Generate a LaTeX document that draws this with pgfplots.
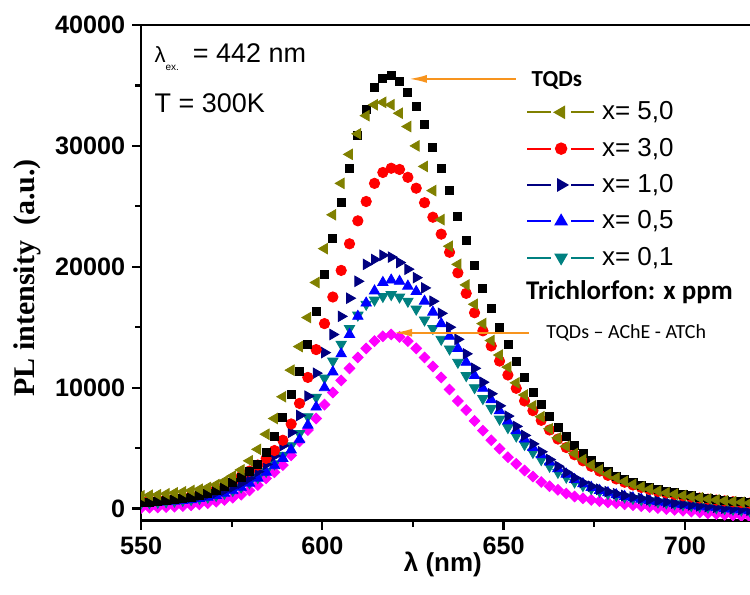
\documentclass[border=0pt]{standalone}
\usepackage{fontspec}
\setmainfont{Liberation Sans}
\newfontfamily\serifbold{Liberation Serif}
\newfontfamily\calibri{Carlito}
\usepackage{pgfplots}
\usepackage{pgfplotstable}
\pgfplotsset{compat=1.18}
\usetikzlibrary{arrows.meta}
\definecolor{olivec}{RGB}{128,128,0}
\definecolor{redc}{RGB}{255,0,0}
\definecolor{navyc}{RGB}{0,0,128}
\definecolor{bluec}{RGB}{0,0,255}
\definecolor{tealc}{RGB}{0,128,128}
\definecolor{magc}{RGB}{255,0,255}
\definecolor{orangec}{RGB}{247,148,30}

\pgfplotstableread{
lam tqd x50 x30 x10 x05 x01 ache
550.0 500 1050 600 600 450 450 50
552.3 540 1100 640 640 480 480 70
554.6 590 1150 690 680 520 520 90
556.9 650 1220 750 730 560 560 120
559.2 720 1300 820 790 610 610 160
561.5 810 1390 910 860 670 670 210
563.8 920 1490 1020 940 740 740 270
566.1 1060 1600 1170 1040 830 830 350
568.4 1250 1750 1370 1160 940 940 450
570.7 1500 1980 1620 1320 1080 1080 570
573.0 1800 2280 1900 1520 1260 1260 720
575.3 2180 2700 2250 1780 1480 1490 900
577.6 2620 3200 2650 2100 1760 1780 1150
579.9 3080 3950 3100 2520 2100 2130 1500
582.2 3620 4900 3600 3050 2520 2560 1950
584.5 4650 6150 4150 3650 3000 3080 2500
586.8 5950 7450 4800 4350 3550 3700 3000
589.1 7550 9250 5650 5200 4150 4400 3600
591.4 9450 11450 7000 6300 4850 5200 4400
593.7 11350 13400 8700 7700 5700 6200 5550
596.0 13600 15800 10850 9300 6900 7600 6500
598.3 16300 18700 13150 11200 8400 9200 7450
600.6 19350 21500 15300 12900 10000 10800 8600
602.9 22350 24300 17500 14400 11300 12200 9600
605.2 25300 26900 19700 15900 12800 13600 10600
607.5 28150 29300 21900 17400 14400 14900 11600
609.8 30850 31000 23800 18800 15900 16000 12500
612.1 33000 32500 25400 20200 17000 16900 13250
614.4 34800 33400 26900 20600 18000 17250 13850
616.7 35600 33600 27800 20950 18700 17550 14250
619.0 35800 33400 28150 20800 18900 17700 14400
621.3 35300 32700 28050 20350 18800 17500 14200
623.6 34400 31600 27400 19800 18400 17150 13850
625.9 33300 30000 26500 19100 17950 16500 13250
628.2 31800 28300 25300 18250 17150 15600 12500
630.5 29900 26300 24100 17150 16250 14900 11750
632.8 28100 23900 22700 16150 15300 14000 10850
635.1 26300 21700 21200 15000 14250 13200 9850
637.4 24200 20200 19500 14000 13250 12100 8900
639.7 22200 18500 17800 12800 12100 11000 8150
642.0 20150 16900 16200 11600 11000 10000 7250
644.3 18250 15300 14700 10450 9950 9100 6450
646.6 16550 13900 13450 9500 9000 8300 5650
648.9 15000 12700 12200 8500 8100 7400 4950
651.2 13550 11700 11050 7650 7250 6700 4250
653.5 12150 10400 9950 6800 6450 6000 3700
655.8 10850 9400 8900 6050 5750 5300 3150
658.1 9600 8500 8100 5350 5050 4650 2650
660.4 8600 7600 7300 4700 4450 4050 2200
662.7 7650 6600 6500 4050 3850 3500 1850
665.0 6750 5850 5750 3500 3300 3000 1550
667.3 5950 5150 5050 3000 2850 2600 1250
669.6 5200 4550 4450 2550 2400 2200 1000
671.9 4550 4050 3950 2150 2050 1900 850
674.2 3950 3600 3500 1850 1750 1650 720
676.5 3450 3200 3100 1600 1500 1430 610
678.8 3050 2850 2750 1400 1310 1250 520
681.1 2700 2530 2450 1230 1140 1090 440
683.4 2400 2250 2180 1080 1000 960 360
685.7 2150 2000 1950 950 880 840 280
688.0 1920 1790 1750 840 770 730 200
690.3 1730 1610 1580 740 670 640 120
692.6 1570 1450 1420 640 580 550 40
694.9 1430 1310 1290 550 490 470 -40
697.2 1300 1190 1170 460 410 390 -110
699.5 1170 1080 1060 380 330 320 -180
701.8 1060 980 960 300 260 250 -250
704.1 960 890 870 230 190 180 -320
706.4 860 800 780 160 130 120 -390
708.7 770 720 700 100 70 60 -450
711.0 690 650 630 40 10 0 -510
713.3 620 580 560 -20 -50 -60 -570
715.6 560 520 500 -80 -110 -120 -620
717.9 500 470 450 -140 -170 -180 -670
}\data

\begin{document}
\begin{tikzpicture}
\begin{axis}[
  scale only axis,
  width=311.9pt, height=248pt,
  xmin=550, xmax=722, ymin=-1000, ymax=40000,
  xtick={550,600,650,700}, minor xtick={575,625,675},
  ytick={0,10000,20000,30000,40000}, minor ytick={5000,15000,25000,35000},
  tick align=outside, tick pos=left,
  major tick length=4.5pt, minor tick length=3pt,
  every tick/.style={black, line width=1.1pt},
  axis line style={line width=1.3pt},
  tick label style={font=\fontsize{12.6}{14}\selectfont\bfseries},
  /pgf/number format/assume math mode=true,
  scaled y ticks=false,
  yticklabel style={/pgf/number format/fixed, /pgf/number format/1000 sep={}},
  xlabel={\fontsize{13}{15}\selectfont\bfseries λ (nm)},
  xlabel style={at={(axis description cs:0.484,-0.0885)}, anchor=center},
  ylabel={\serifbold\bfseries\fontsize{15}{17}\selectfont PL intensity\ \ (a.u.)},
  ylabel style={at={(axis description cs:-0.183,0.49)}, anchor=center},
  clip marker paths=true,
  legend cell align=left,
  legend image code/.code={
    \draw[#1, mark=none] (0pt,0pt) -- (12pt,0pt);
    \draw[#1, mark=none] (22pt,0pt) -- (33.5pt,0pt);
    \draw[#1] plot coordinates {(17pt,0pt)};
  },
  legend style={draw=none, fill=none, at={(0.617,0.852)}, anchor=north west,
    font=\fontsize{13}{15}\selectfont, row sep=4.6pt, inner sep=0pt,
    nodes={inner sep=1.5pt}, /tikz/every odd column/.append style={column sep=2pt}},
]
\addplot[only marks, mark=square*, mark size=1.9pt, color=magc, mark options={rotate=45}, forget plot] table[x=lam,y=ache]{\data};
\addplot[only marks, mark=triangle*, mark size=3pt, color=tealc, mark options={rotate=180}, forget plot] table[x=lam,y=x01]{\data};
\addplot[only marks, mark=triangle*, mark size=3pt, color=bluec, forget plot] table[x=lam,y=x05]{\data};
\addplot[only marks, mark=triangle*, mark size=3pt, color=navyc, mark options={rotate=-90}, forget plot] table[x=lam,y=x10]{\data};
\addplot[only marks, mark=*, mark size=2.6pt, color=redc, forget plot] table[x=lam,y=x30]{\data};
\addplot[only marks, mark=square*, mark size=2pt, color=black, forget plot] table[x=lam,y=tqd]{\data};
\addplot[only marks, mark=triangle*, mark size=3pt, color=olivec, mark options={rotate=90}, forget plot] table[x=lam,y=x50]{\data};

\addlegendimage{olivec, line width=1pt, mark=triangle*, mark size=3pt, mark options={rotate=90, solid}}
\addlegendentry{x= 5,0}
\addlegendimage{redc, line width=1pt, mark=*, mark size=2.6pt}
\addlegendentry{x= 3,0}
\addlegendimage{navyc, line width=1pt, mark=triangle*, mark size=3pt, mark options={rotate=-90}}
\addlegendentry{x= 1,0}
\addlegendimage{bluec, line width=1pt, mark=triangle*, mark size=3pt}
\addlegendentry{x= 0,5}
\addlegendimage{tealc, line width=1pt, mark=triangle*, mark size=3pt, mark options={rotate=180}}
\addlegendentry{x= 0,1}

\draw[orangec, line width=1pt, -{Latex[length=9pt,width=4pt]}] (axis cs:653.4,35540) -- (axis cs:623.9,35540);
\draw[orangec, line width=1pt, -{Latex[length=9pt,width=4pt]}] (axis cs:657,14545) -- (axis cs:619.8,14545);
\node[anchor=center, inner sep=0pt] at (axis cs:664.7,35450) {\calibri\bfseries\fontsize{11.5}{13}\selectfont TQDs};
\node[anchor=west, inner sep=0pt] at (axis cs:661.7,14545) {\calibri\fontsize{10}{12}\selectfont TQDs – AChE - ATCh};
\node[anchor=west, inner sep=0pt] at (axis cs:656.1,17930) {\calibri\bfseries\fontsize{13.5}{15}\selectfont Trichlorfon: x ppm};
\node[anchor=west, inner sep=0pt] at (axis cs:553.6,37355) {{\fontsize{11}{13}\selectfont λ}\raisebox{-4pt}{\fontsize{5}{6}\selectfont ex.}\hspace{7pt}{\fontsize{13.5}{15}\selectfont = 442 nm}};
\node[anchor=west, inner sep=0pt] at (axis cs:553.6,33550) {\fontsize{13.5}{15}\selectfont T = 300K};

\coordinate (sw) at (rel axis cs:0,0);
\coordinate (ne) at (rel axis cs:1,1);
\coordinate (re) at (axis cs:718,40000);
\end{axis}
\pgfresetboundingbox
\path[use as bounding box] ([xshift=-70.6pt, yshift=-37pt]sw) rectangle ([yshift=12.5pt]re);
\end{tikzpicture}
\end{document}
